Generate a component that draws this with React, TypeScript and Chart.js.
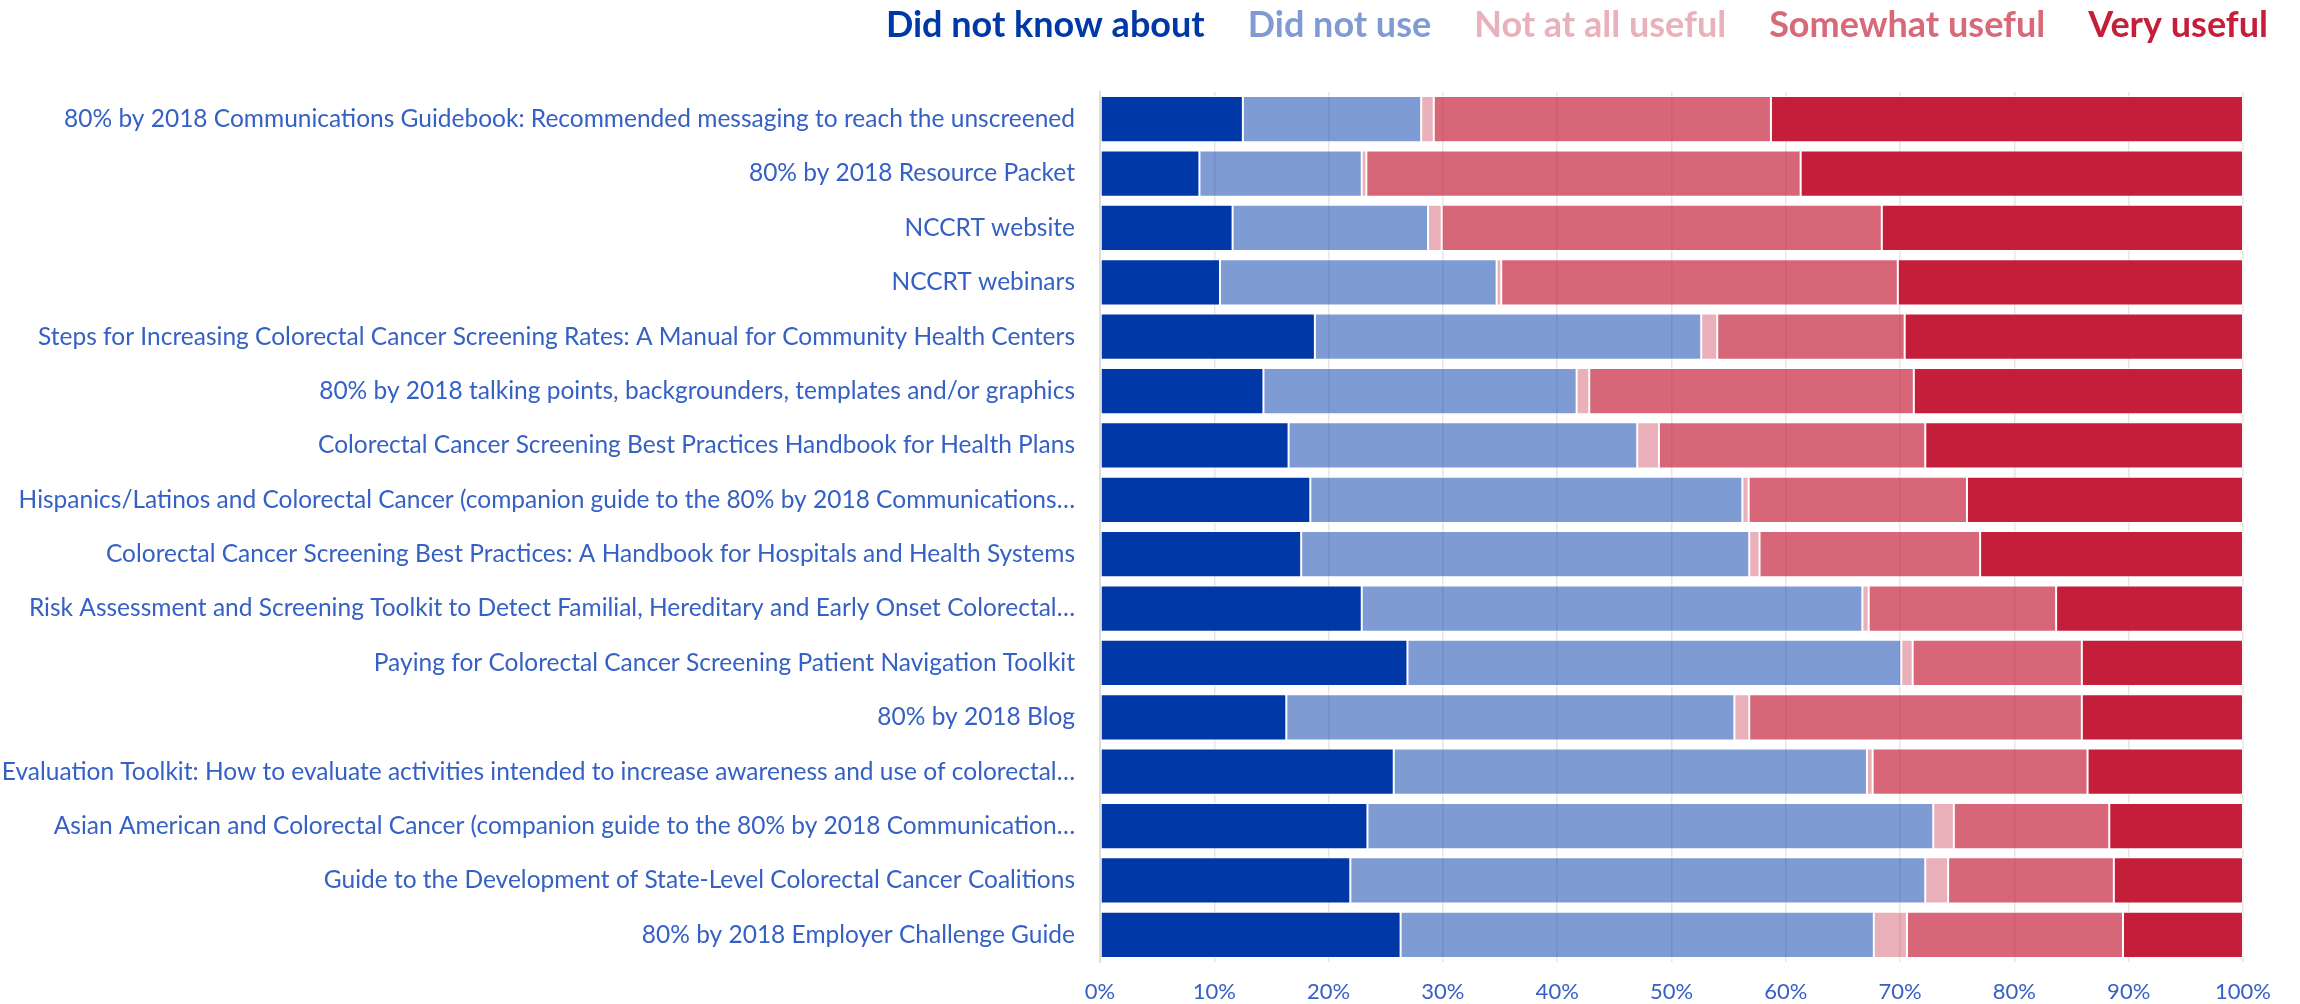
import React, { useEffect, useRef } from "react";
import { Chart, registerables } from "chart.js";

Chart.register(...registerables);

const categories: string[] = [
  "80% by 2018 Communications Guidebook: Recommended messaging to reach the unscreened",
  "80% by 2018 Resource Packet",
  "NCCRT website",
  "NCCRT webinars",
  "Steps for Increasing Colorectal Cancer Screening Rates: A Manual for Community Health Centers",
  "80% by 2018 talking points, backgrounders, templates and/or graphics",
  "Colorectal Cancer Screening Best Practices Handbook for Health Plans",
  "Hispanics/Latinos and Colorectal Cancer (companion guide to the 80% by 2018 Communications…",
  "Colorectal Cancer Screening Best Practices: A Handbook for Hospitals and Health Systems",
  "Risk Assessment and Screening Toolkit to Detect Familial, Hereditary and Early Onset Colorectal…",
  "Paying for Colorectal Cancer Screening Patient Navigation Toolkit",
  "80% by 2018 Blog",
  "Evaluation Toolkit: How to evaluate activities intended to increase awareness and use of colorectal…",
  "Asian American and Colorectal Cancer (companion guide to the 80% by 2018 Communication…",
  "Guide to the Development of State-Level Colorectal Cancer Coalitions",
  "80% by 2018 Employer Challenge Guide",
];

const seriesNames: string[] = [
  "Did not know about",
  "Did not use",
  "Not at all useful",
  "Somewhat useful",
  "Very useful",
];

const didNotKnowAbout: number[] = [12.5, 8.7, 11.6, 10.5, 18.8, 14.3, 16.5, 18.4, 17.6, 22.9, 26.9, 16.3, 25.7, 23.4, 21.9, 26.3];
const didNotUse: number[] = [15.6, 14.2, 17.1, 24.2, 33.8, 27.4, 30.5, 37.8, 39.2, 43.8, 43.2, 39.2, 41.4, 49.5, 50.3, 41.4];
const notAtAllUseful: number[] = [1.1, 0.4, 1.2, 0.4, 1.4, 1.1, 1.9, 0.55, 0.9, 0.55, 1.0, 1.3, 0.5, 1.8, 2.0, 2.9];
const somewhatUseful: number[] = [29.5, 38.0, 38.5, 34.7, 16.4, 28.4, 23.3, 19.1, 19.3, 16.4, 14.8, 29.1, 18.8, 13.6, 14.5, 18.9];
const veryUseful: number[] = [41.3, 38.7, 31.6, 30.2, 29.6, 28.8, 27.8, 24.15, 23.0, 16.35, 14.1, 14.1, 13.6, 11.7, 11.3, 10.5];

const xTickValues: number[] = [0, 10, 20, 30, 40, 50, 60, 70, 80, 90, 100];

const seriesValues = [didNotKnowAbout, didNotUse, notAtAllUseful, somewhatUseful, veryUseful];
const barColors = [
  "rgb(0, 56, 168)",
  "rgba(0, 56, 168, 0.5)",
  "rgba(196, 30, 58, 0.35)",
  "rgba(196, 30, 58, 0.68)",
  "rgb(196, 30, 58)",
];
const legendColors = ["#0038a8", "#809bd3", "#e9b1b9", "#d86979", "#c41e3a"];
const tickColor = "#3560c4";
const FONT = "Lato, 'Noto Sans', sans-serif";

export default function App() {
  const canvasRef = useRef<HTMLCanvasElement | null>(null);

  useEffect(() => {
    const canvas = canvasRef.current;
    if (!canvas) return;
    const chart = new Chart(canvas, {
      type: "bar",
      data: {
        labels: categories,
        datasets: seriesNames.map((name, i) => ({
          label: name,
          data: seriesValues[i],
          backgroundColor: barColors[i],
          borderColor: "rgba(255,255,255,0.75)",
          borderWidth: 1,
          borderSkipped: false,
          barPercentage: 0.85,
          categoryPercentage: 1,
        })),
      },
      options: {
        indexAxis: "y",
        responsive: false,
        devicePixelRatio: 1,
        animation: false,
        layout: { padding: { top: 3, right: 28, left: 0, bottom: 0 } },
        plugins: {
          tooltip: { enabled: false },
          title: {
            display: true,
            text: "",
            weight: 500,
            font: { size: 1, lineHeight: 1 },
            padding: { top: 38, bottom: 0 },
          },
          legend: {
            display: true,
            position: "top",
            align: "end",
            labels: {
              boxWidth: 21,
              boxHeight: 0,
              padding: 4,
              font: { family: FONT, size: 36, weight: "bold" },
              generateLabels: () =>
                seriesNames.map((name, i) => ({
                  text: name,
                  fillStyle: "rgba(0,0,0,0)",
                  strokeStyle: "rgba(0,0,0,0)",
                  lineWidth: 0,
                  fontColor: legendColors[i],
                  hidden: false,
                  datasetIndex: i,
                })),
            },
          },
        },
        scales: {
          x: {
            stacked: true,
            min: 0,
            max: 100,
            afterBuildTicks: (scale: any) => {
              scale.ticks = xTickValues.map((v) => ({ value: v }));
            },
            afterFit: (scale: any) => {
              scale.paddingRight = 57;
              scale.height = 42;
            },
            ticks: {
              color: tickColor,
              padding: 17,
              font: { family: FONT, size: 22 },
              callback: (v: any) => `${v}%`,
              maxRotation: 0,
            },
            grid: { color: "#e6e6e6", lineWidth: 1.5, drawTicks: false },
            border: { display: false },
          },
          y: {
            stacked: true,
            afterFit: (scale: any) => {
              scale.width = 1100;
              scale.paddingTop = 0;
              scale.paddingBottom = 0;
            },
            ticks: {
              color: tickColor,
              padding: 25,
              font: { family: FONT, size: 24.5 },
            },
            grid: { display: false, drawTicks: false },
            border: { display: true, color: "#dcdcdc", width: 2 },
          },
        },
      },
    } as any);
    return () => chart.destroy();
  }, []);

  return (
    <div style={{ position: "absolute", left: 0, top: 0, width: 2300, height: 1004, background: "#fff" }}>
      <canvas ref={canvasRef} width={2300} height={1004} style={{ width: 2300, height: 1004 }} />
    </div>
  );
}
